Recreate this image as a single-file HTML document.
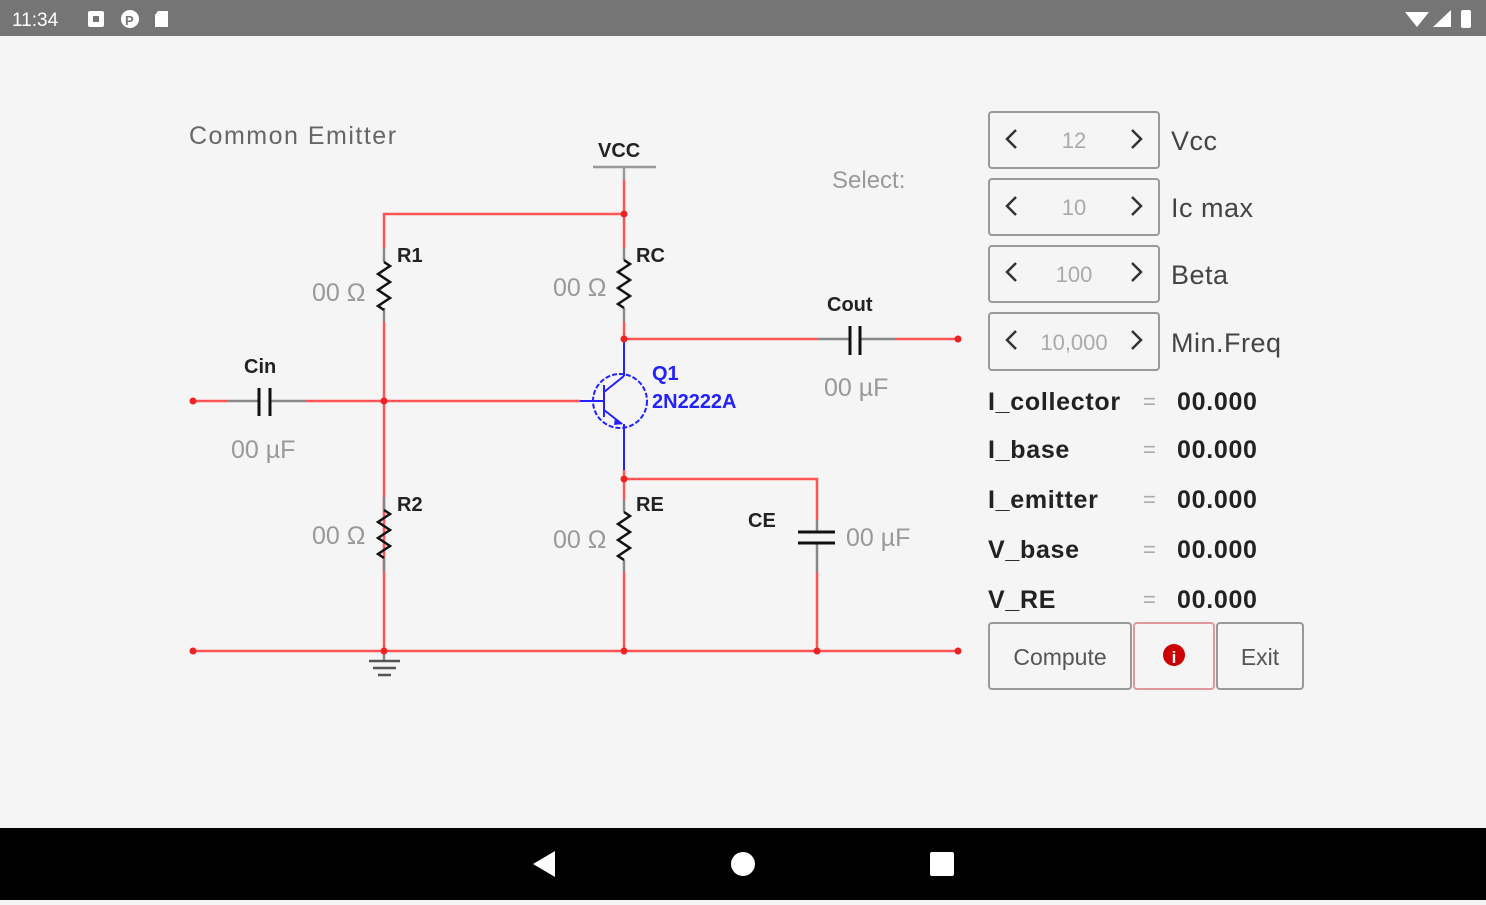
<!DOCTYPE html>
<html><head><meta charset="utf-8"><style>
body{margin:0;width:1486px;height:900px;overflow:hidden;background:#f5f5f5;font-family:"Liberation Sans",sans-serif}
</style></head><body>
<svg width="1486" height="900" xmlns="http://www.w3.org/2000/svg" font-family="Liberation Sans, sans-serif">
<rect width="1486" height="900" fill="#f5f5f5"/>
<rect width="1486" height="36" fill="#757575"/>
<text x="12" y="26" font-size="19" fill="#fff">11:34</text>
<rect x="88" y="11" width="16" height="16" rx="2" fill="#fff"/><rect x="93" y="16" width="6" height="6" fill="#757575"/>
<circle cx="130" cy="19" r="9" fill="#fff"/><text x="125" y="25" font-size="13" font-weight="bold" fill="#757575">P</text>
<path d="M158 11h10v16h-13v-12z" fill="#fff"/>
<path d="M1405 12 L1429 12 L1417 27Z" fill="#fff"/><path d="M1433 27 L1451 27 L1451 10Z" fill="#fff"/><rect x="1461" y="10" width="10" height="18" rx="2" fill="#fff"/>
<rect y="828" width="1486" height="72" fill="#000"/>
<path d="M555 851 L555 877 L533 864Z" fill="#fff"/>
<circle cx="743" cy="864" r="12" fill="#fff"/>
<rect x="930" y="852" width="24" height="24" rx="2" fill="#fff"/>

<text x="189" y="144" font-size="25" fill="#666" letter-spacing="1.5">Common Emitter</text>
<text x="832" y="188" font-size="24" fill="#999">Select:</text>

<g fill="none" stroke-width="2.5">
<line x1="593" y1="167" x2="656" y2="167" stroke="#999"/>
<line x1="624" y1="167" x2="624" y2="180" stroke="#999"/>
<path d="M624 180V214H384V248" stroke="#f55"/>
<path d="M384 248v14 M384 308v14" stroke="#888"/>
<path d="M384 262l6 4-12 8 12 8-12 8 12 8-12 8 6 4" stroke="#111"/>
<path d="M384 322V651" stroke="#f55"/>
<path d="M624 214V248" stroke="#f55"/>
<path d="M624 248v12 M624 308v14" stroke="#888"/>
<path d="M624 260l6 4-12 8 12 8-12 8 12 8-12 8 6 4" stroke="#111"/>
<path d="M624 322V339H817" stroke="#f55"/>
<path d="M817 339H850 M860 339H895" stroke="#888"/>
<path d="M850 326V355 M860 326V355" stroke="#111" stroke-width="3"/>
<path d="M895 339H958" stroke="#f55"/>
<path d="M193 401H228" stroke="#f55"/>
<path d="M228 401H259 M270 401H305" stroke="#888"/>
<path d="M259 388V416 M270 388V416" stroke="#111" stroke-width="3"/>
<path d="M305 401H580" stroke="#f55"/>
<g stroke="#22f" stroke-width="2">
<path d="M580 401H604" />
<circle cx="620" cy="401" r="27" stroke-dasharray="5 2"/>
<path d="M604 385V417 M604 392L624 376 M604 410L622 424"/>
<path d="M624 339V376 M624 424V470"/>
</g>
<path d="M615 418l8 6-9 1z" fill="#22f"/>
<path d="M624 470V479H817V520" stroke="#f55"/>
<path d="M624 479V500" stroke="#f55"/>
<path d="M624 500v12 M624 560v12" stroke="#888"/>
<path d="M624 512l6 4-12 8 12 8-12 8 12 8-12 8 6 4" stroke="#111"/>
<path d="M624 572V651" stroke="#f55"/>
<path d="M817 520V532 M817 543V572" stroke="#888"/>
<path d="M798 532H835 M798 543H835" stroke="#111" stroke-width="3"/>
<path d="M817 572V651" stroke="#f55"/>
<path d="M384 497v13 M384 558v14" stroke="#888"/>
<path d="M384 510l6 4-12 8 12 8-12 8 12 8-12 8 6 4" stroke="#111"/>
<path d="M193 651H958" stroke="#f55"/>
<path d="M384 651V660" stroke="#888"/>
<path d="M369 661H400 M373 668H396 M378 675H391" stroke="#555"/>
</g>
<g fill="#e22">
<circle cx="624" cy="214" r="3.5"/><circle cx="624" cy="339" r="3.5"/><circle cx="958" cy="339" r="3.5"/>
<circle cx="193" cy="401" r="3.5"/><circle cx="384" cy="401" r="3.5"/><circle cx="624" cy="479" r="3.5"/>
<circle cx="193" cy="651" r="3.5"/><circle cx="384" cy="651" r="3.5"/><circle cx="624" cy="651" r="3.5"/><circle cx="817" cy="651" r="3.5"/><circle cx="958" cy="651" r="3.5"/>
</g>
<g font-weight="bold" font-size="20" fill="#222">
<text x="598" y="157">VCC</text>
<text x="397" y="262">R1</text>
<text x="636" y="262">RC</text>
<text x="827" y="311">Cout</text>
<text x="244" y="373">Cin</text>
<text x="397" y="511">R2</text>
<text x="636" y="511">RE</text>
<text x="748" y="527">CE</text>
</g>
<g font-weight="bold" font-size="20" fill="#22f">
<text x="652" y="380">Q1</text>
<text x="652" y="408">2N2222A</text>
</g>
<g font-size="25" fill="#999">
<text x="312" y="301">00 Ω</text>
<text x="553" y="296">00 Ω</text>
<text x="824" y="396">00 µF</text>
<text x="231" y="458">00 µF</text>
<text x="312" y="544">00 Ω</text>
<text x="553" y="548">00 Ω</text>
<text x="846" y="546">00 µF</text>
</g>

<g stroke="#999" stroke-width="2" fill="#f5f5f5">
<rect x="989" y="112" width="170" height="56" rx="3"/>
<rect x="989" y="179" width="170" height="56" rx="3"/>
<rect x="989" y="246" width="170" height="56" rx="3"/>
<rect x="989" y="313" width="170" height="57" rx="3"/>
<rect x="989" y="623" width="142" height="66" rx="3"/>
<rect x="1134" y="623" width="80" height="66" rx="3" stroke="#d99"/>
<rect x="1217" y="623" width="86" height="66" rx="3"/>
</g>
<g stroke="#333" stroke-width="2.5" fill="none">
<path d="M1016 130l-9 9 9 9 M1132 130l9 9-9 9"/>
<path d="M1016 197l-9 9 9 9 M1132 197l9 9-9 9"/>
<path d="M1016 263l-9 9 9 9 M1132 263l9 9-9 9"/>
<path d="M1016 331l-9 9 9 9 M1132 331l9 9-9 9"/>
</g>
<g font-size="22" fill="#aaa" text-anchor="middle">
<text x="1074" y="148">12</text>
<text x="1074" y="215">10</text>
<text x="1074" y="282">100</text>
<text x="1074" y="350">10,000</text>
</g>
<g font-size="27" fill="#444" letter-spacing="0.5">
<text x="1171" y="150">Vcc</text>
<text x="1171" y="217">Ic max</text>
<text x="1171" y="284">Beta</text>
<text x="1171" y="352">Min.Freq</text>
</g>
<g font-size="25" font-weight="bold" fill="#222" letter-spacing="0.7">
<text x="988" y="410">I_collector</text>
<text x="988" y="458">I_base</text>
<text x="988" y="508">I_emitter</text>
<text x="988" y="558">V_base</text>
<text x="988" y="608">V_RE</text>
<text x="1177" y="410">00.000</text>
<text x="1177" y="458">00.000</text>
<text x="1177" y="508">00.000</text>
<text x="1177" y="558">00.000</text>
<text x="1177" y="608">00.000</text>
</g>
<g font-size="22" fill="#aaa">
<text x="1143" y="409">=</text><text x="1143" y="457">=</text><text x="1143" y="507">=</text><text x="1143" y="557">=</text><text x="1143" y="607">=</text>
</g>
<text x="1060" y="665" font-size="23" fill="#555" text-anchor="middle">Compute</text>
<text x="1260" y="665" font-size="23" fill="#555" text-anchor="middle">Exit</text>
<circle cx="1174" cy="655" r="11" fill="#c00"/>
<text x="1174" y="663" font-size="17" font-weight="bold" fill="#fff" text-anchor="middle">i</text>
</svg>
</body></html>
